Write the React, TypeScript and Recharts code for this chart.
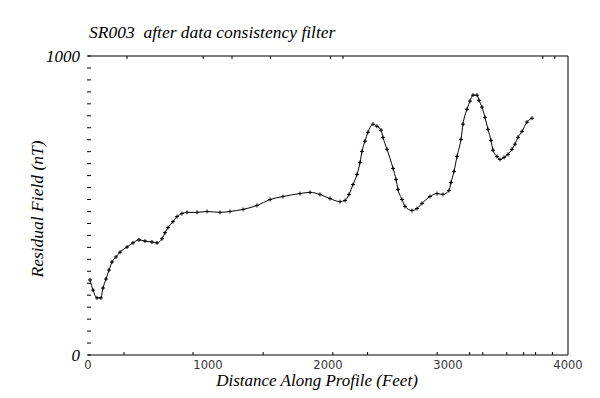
import { LineChart, Line, XAxis, YAxis } from "recharts";

// residual field profile
const DISTANCE = [
  17, 42, 75, 108, 125, 150, 175, 200, 233, 267, 325, 375, 425, 475, 533, 575,
  617, 642, 667, 708, 742, 783, 825, 908, 992, 1100, 1183, 1292, 1408, 1517,
  1625, 1767, 1850, 1933, 2017, 2100, 2142, 2175, 2208, 2242, 2267, 2283, 2308,
  2333, 2375, 2408, 2442, 2458, 2492, 2542, 2567, 2583, 2617, 2642, 2700, 2742,
  2783, 2850, 2908, 2958, 3008, 3025, 3050, 3075, 3108, 3125, 3158, 3183, 3208,
  3242, 3258, 3283, 3308, 3333, 3358, 3375, 3408, 3433, 3467, 3500, 3533, 3558,
  3583, 3617, 3658, 3700,
];
const FIELD = [
  251, 217, 191, 191, 224, 254, 284, 311, 328, 344, 361, 375, 385, 381, 378, 375,
  389, 409, 426, 446, 463, 473, 477, 477, 480, 477, 480, 487, 500, 520,
  530, 540, 544, 537, 523, 513, 517, 537, 570, 604, 644, 681, 715,
  745, 772, 765, 752, 728, 688, 624, 587, 554, 520, 497, 483, 490,
  507, 530, 540, 537, 550, 577, 614, 664, 721, 772, 822, 849, 869,
  869, 852, 829, 795, 755, 718, 685, 664, 654, 661, 671, 688, 705,
  728, 748, 779, 792,
];

const X_LABELS = [0, 1000, 2000, 3000, 4000];
const Y_LABELS = [0, 1000];
const LEFT_TICKS = [
  0, 40, 80, 120, 160, 200, 240, 280, 320, 360, 400, 440, 480, 520, 560, 600,
  640, 680, 720, 760, 800, 840, 880, 920, 960, 1000,
];
const RIGHT_TICKS = [100, 200, 300, 400, 500, 600, 700, 800, 900];
const TOP_TICKS = [325, 960, 1200, 1520, 2020, 2125, 3790, 3890];
const BOTTOM_TICKS = [300, 875, 1460, 2040, 2330, 2910, 3180, 3290, 3490, 3630, 3730, 3870];

const rows = DISTANCE.map((d, i) => ({ d, v: FIELD[i] }));

const serif = "'Liberation Serif', 'Times New Roman', serif";

function LeftTick({ x, y, payload }: any) {
  const v = payload.value;
  return (
    <g>
      <line x1={x - 1} x2={x + 3} y1={y} y2={y} stroke="#000" />
      {Y_LABELS.includes(v) && (
        <text x={x - 8} y={y} textAnchor="end" dominantBaseline="central"
          fontFamily={serif} fontStyle="italic" fontSize={17} fill="#000">
          {v}
        </text>
      )}
    </g>
  );
}

function RightTick({ x, y }: any) {
  return <line x1={x - 4} x2={x} y1={y} y2={y} stroke="#000" />;
}

function TopTick({ x, y }: any) {
  return <line x1={x} x2={x} y1={y} y2={y + 3} stroke="#000" />;
}

function BottomTick({ x, y, payload }: any) {
  const v = payload.value;
  if (X_LABELS.includes(v)) {
    return (
      <text x={x} y={y + 10} textAnchor="middle" dominantBaseline="central"
        fontFamily="'DejaVu Sans', sans-serif" fontSize={11.5} fill="#333">
        {v}
      </text>
    );
  }
  return <line x1={x} x2={x} y1={y} y2={y - 3} stroke="#000" />;
}

function Cross({ cx, cy }: any) {
  if (cx == null || cy == null) return null;
  return (
    <path d={`M${cx - 2},${cy}H${cx + 2}M${cx},${cy - 2}V${cy + 2}`} stroke="#000" strokeWidth={1} fill="none" />
  );
}

export default function App() {
  return (
    <div style={{ position: "relative", width: 600, height: 398, background: "#fff" }}>
      <style>{`body{margin:0}`}</style>
      <div style={{ position: "absolute", left: 89, top: 22, fontFamily: serif, fontStyle: "italic", fontSize: 17.5, whiteSpace: "pre", color: "#000" }}>
        {"SR003  after data consistency filter"}
      </div>
      <div style={{ position: "absolute", left: 317, top: 372, height: 17, lineHeight: "17px", transform: "translateX(-50%)", fontFamily: serif, fontStyle: "italic", fontSize: 17, whiteSpace: "nowrap", color: "#000" }}>
        Distance Along Profile (Feet)
      </div>
      <div style={{ position: "absolute", left: 37, top: 209, transform: "translate(-50%, -50%) rotate(-90deg)", fontFamily: serif, fontStyle: "italic", fontSize: 17.5, whiteSpace: "nowrap", color: "#000" }}>
        Residual Field (nT)
      </div>
      <LineChart width={600} height={398} data={rows} margin={{ top: 50, right: 26, bottom: 13, left: 0 }}>
        <XAxis dataKey="d" type="number" domain={[0, 4000]} ticks={[...X_LABELS, ...BOTTOM_TICKS]}
          interval={0} tickSize={0} tickMargin={0} tickLine={false} height={30}
          axisLine={{ stroke: "#000" }} tick={<BottomTick />} />
        <XAxis xAxisId="top" orientation="top" dataKey="d" type="number" domain={[0, 4000]} ticks={TOP_TICKS}
          interval={0} tickSize={0} tickMargin={0} tickLine={false} height={6}
          axisLine={{ stroke: "#000" }} tick={<TopTick />} />
        <YAxis type="number" domain={[0, 1000]} ticks={LEFT_TICKS} interval={0} width={88}
          tickSize={0} tickMargin={0} tickLine={false} axisLine={false} tick={<LeftTick />} />
        <YAxis yAxisId="right" orientation="right" type="number" domain={[0, 1000]} ticks={RIGHT_TICKS}
          interval={0} width={6} tickSize={0} tickMargin={0} tickLine={false}
          axisLine={{ stroke: "#000" }} tick={<RightTick />} />
        <Line dataKey="v" type="monotone" stroke="#000" strokeWidth={1} dot={<Cross />}
          activeDot={false} isAnimationActive={false} />
      </LineChart>
    </div>
  );
}
